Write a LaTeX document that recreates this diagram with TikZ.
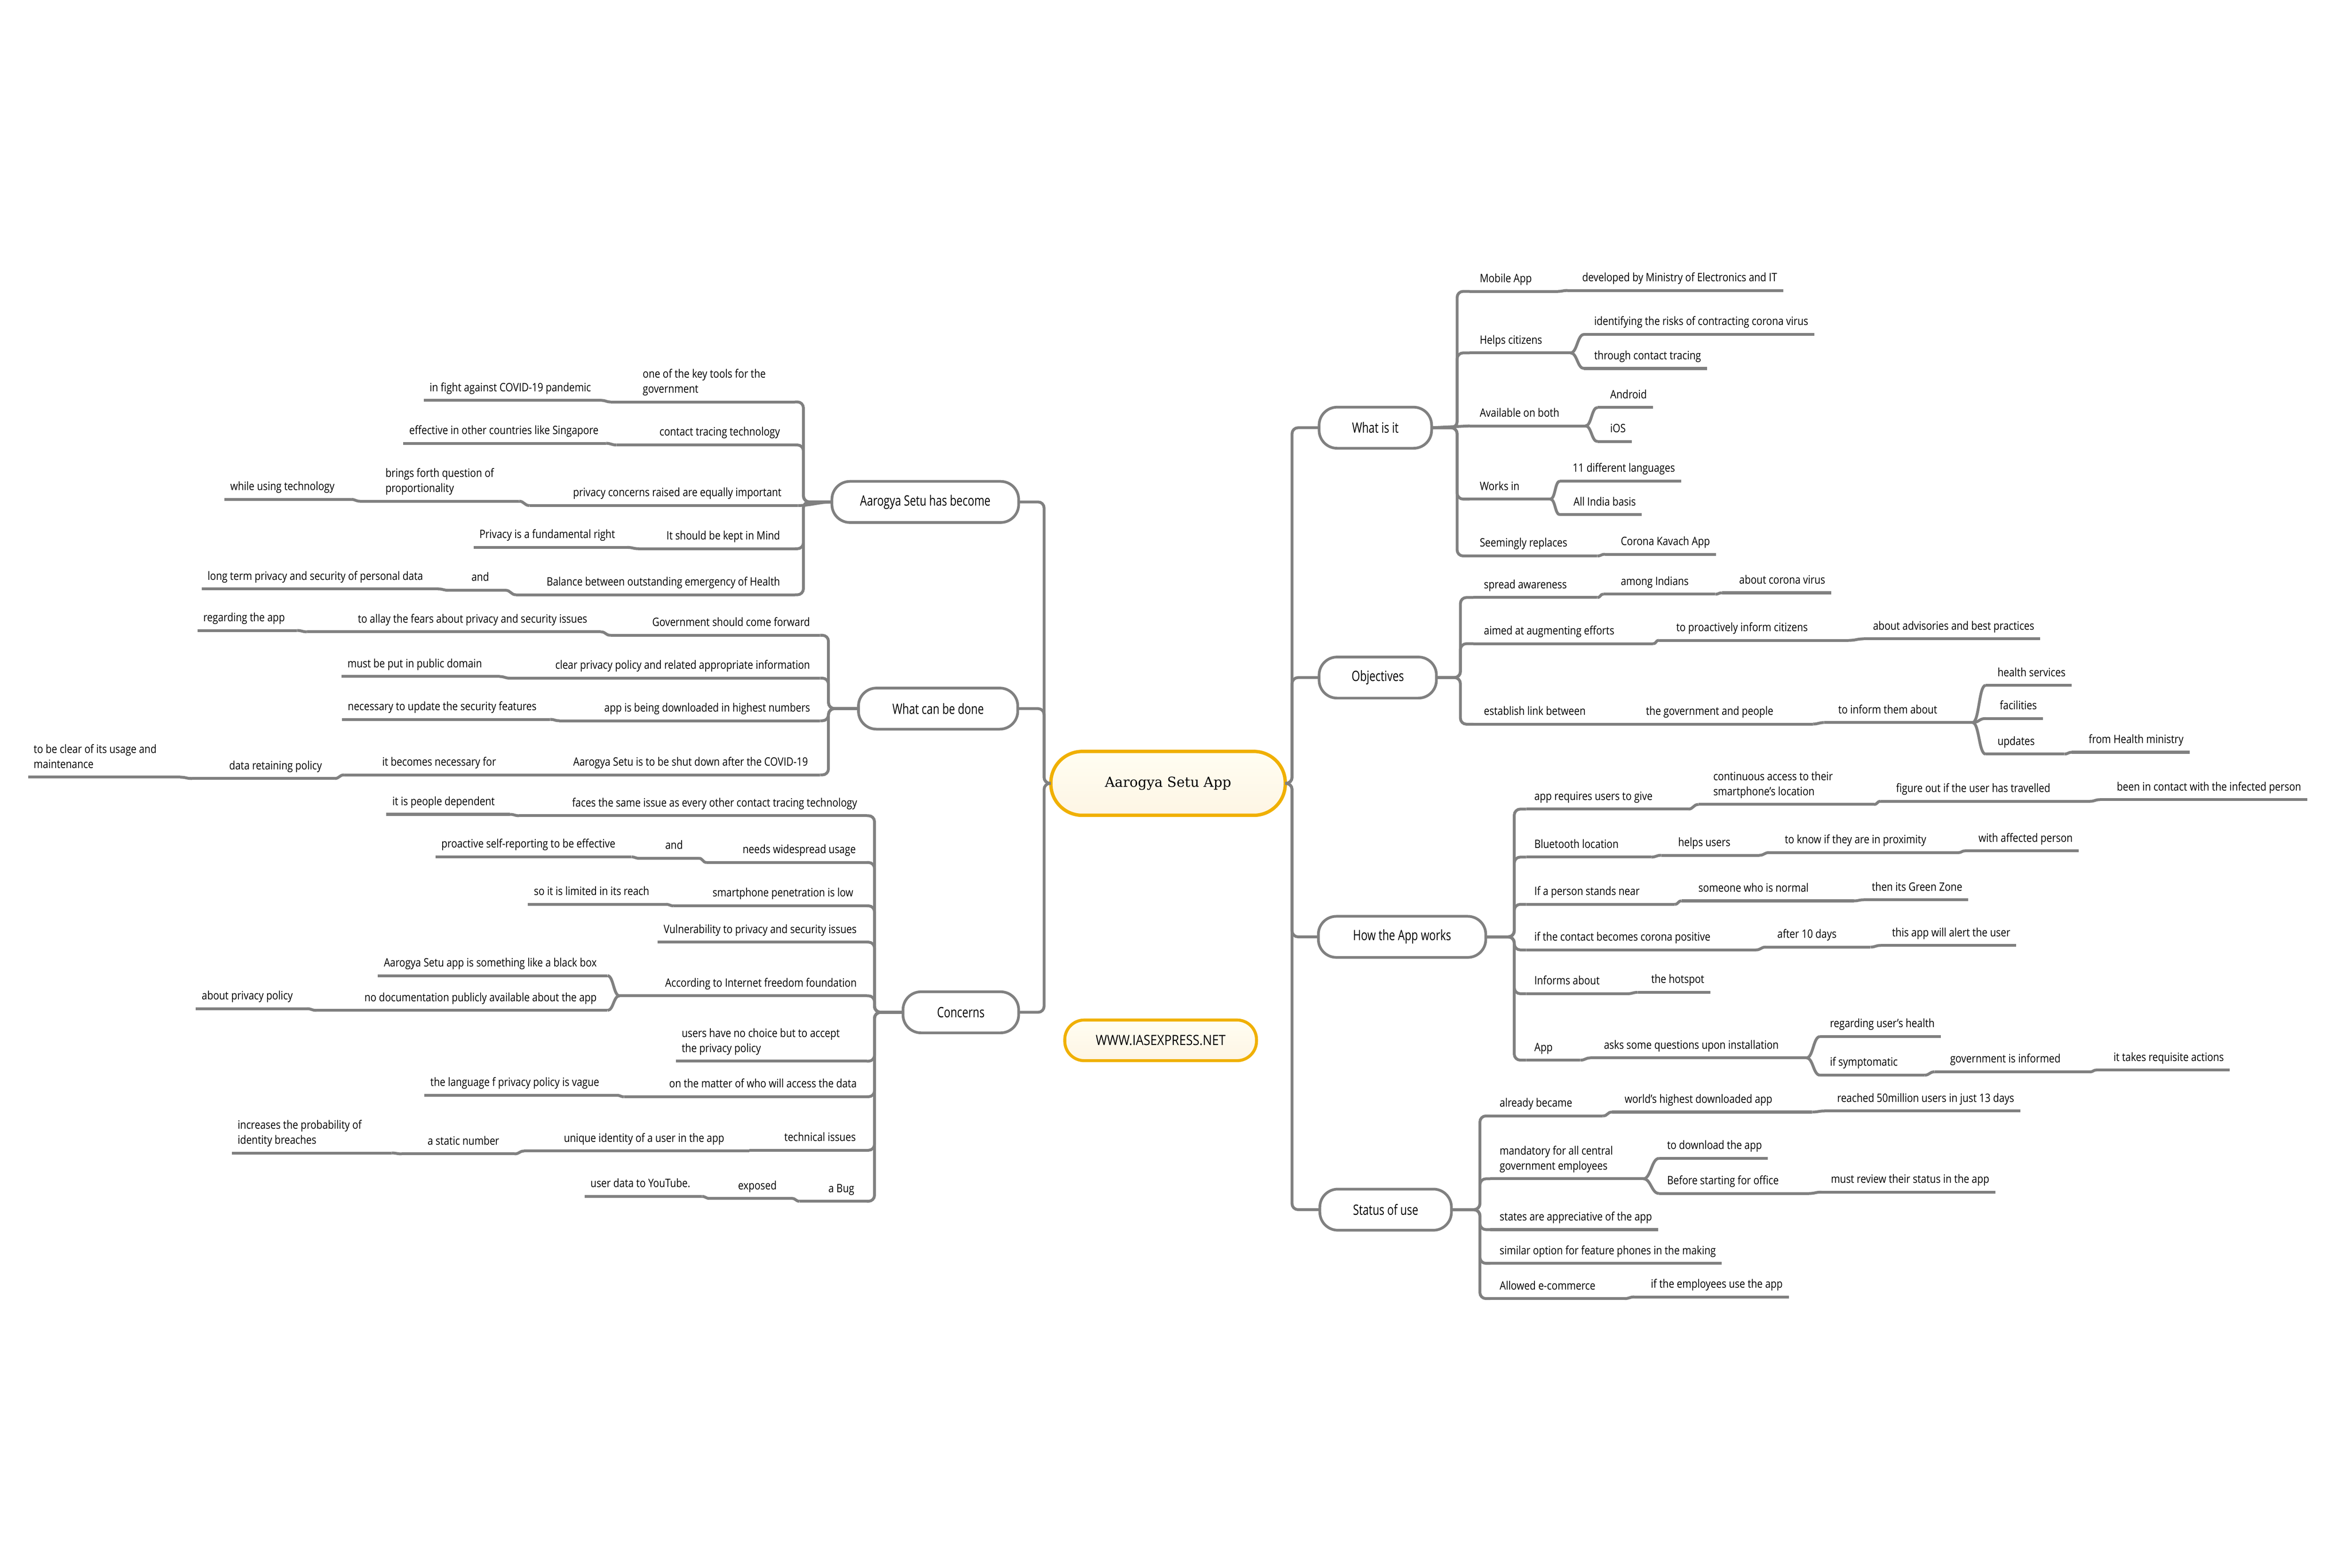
\documentclass[tikz,border=0pt]{standalone}
\usepackage{fontspec}
\newfontfamily\tf{Open Sans}[FakeStretch=0.85]
\newfontfamily\brf{Open Sans}[FakeStretch=0.76]
\newfontfamily\wwwf{Open Sans}[FakeStretch=0.87]
\newfontfamily\rootf{DejaVu Serif}
\usetikzlibrary{calc}
\definecolor{lc}{RGB}{128,128,128}
\definecolor{gold}{RGB}{240,176,0}
\definecolor{creamtop}{RGB}{255,254,242}
\definecolor{creambot}{RGB}{254,245,228}
\newcommand\stf{\tf\fontsize{7.7}{10}\selectfont}
\newcommand\two[2]{\begin{tabular}[b]{@{}l@{}}#1\\#2\end{tabular}}
% right side topic, non-leaf: id, text-left x, underline start, underline end, underline y, text
\newcommand\TRn[6]{\node[tpc,anchor=base west] (#1) at (#2,#5-6) {#6};
  \draw[uline] (#3,#5) coordinate (#1-a) -- (#4,#5) coordinate (#1-b);}
% right side leaf: id, text-left x, underline start, y, text
\newcommand\TRl[5]{\node[tpc,anchor=base west] (#1) at (#2,#4-6) {#5};
  \draw[uline] (#3,#4) coordinate (#1-a) -- ([shift={(4,6)}]#1.base east) coordinate (#1-b);}
% left side non-leaf: id, text-right x, far end, near end, y, text
\newcommand\TLn[6]{\node[tpc,anchor=base east] (#1) at (#2,#5-6) {#6};
  \draw[uline] (#4,#5) coordinate (#1-a) -- (#3,#5) coordinate (#1-b);}
% left side leaf: id, text-right x, near end, y, text
\newcommand\TLl[5]{\node[tpc,anchor=base east] (#1) at (#2,#4-6) {#5};
  \draw[uline] (#3,#4) coordinate (#1-a) -- ([shift={(-4,6)}]#1.base west) coordinate (#1-b);}
% left side, left-aligned text: id, text-left x, far end, near end, y, text
\newcommand\TLw[6]{\node[tpc,anchor=base west] (#1) at (#2,#5-6) {#6};
  \draw[uline] (#4,#5) coordinate (#1-a) -- (#3,#5) coordinate (#1-b);}
\begin{document}
\begin{tikzpicture}[x=1pt,y=-1pt,
  tpc/.style={inner sep=0pt,outer sep=0pt,font=\stf,text=black},
  uline/.style={draw=lc,line width=1.9pt},
  cline/.style={draw=lc,line width=1.9pt},
  trk/.style={cline,rounded corners=4pt},
  sbend/.style={to path={.. controls +(#1,0) and +({0-(#1)},0) .. (\tikztotarget)}},
  brn/.style={draw=lc,line width=1.8pt,fill=white,rounded corners=12pt,minimum height=27.4pt,inner sep=0pt,outer sep=0pt,font=\brf\fontsize{9.5}{11}\selectfont},
  rootbox/.style={draw=gold,line width=2.25pt,top color=creamtop,bottom color=creambot,rounded corners=21pt,minimum width=156.3pt,minimum height=42.6pt,inner sep=0pt,outer sep=0pt,font=\rootf\fontsize{9.2}{11}\selectfont},
  wwwbox/.style={draw=gold,line width=2pt,top color=creamtop,bottom color=creambot,rounded corners=13pt,minimum width=127.8pt,minimum height=27.1pt,inner sep=0pt,outer sep=0pt,font=\wwwf\fontsize{9.4}{11}\selectfont}]
\fill[white] (0,0) rectangle (1568,1045.33);
\useasboundingbox (0,0) rectangle (1568,1045.33);

% ---------- central and main branches ----------
\node[rootbox] (root) at (778.7,522.35) {Aarogya Setu App};
\node[wwwbox] (www) at (773.75,693.7) {WWW.IASEXPRESS.NET};
\node[brn,minimum width=75pt] (B1) at (916.9,285.2) {What is it};
\node[brn,minimum width=78.2pt] (B2) at (918.5,451.8) {Objectives};
\node[brn,minimum width=111.6pt] (B3) at (934.7,624.7) {How the App works};
\node[brn,minimum width=87.7pt] (B4) at (923.75,806.6) {Status of use};
\node[brn,minimum width=124.5pt] (B5) at (616.85,334.7) {Aarogya Setu has become};
\node[brn,minimum width=106.2pt] (B6) at (625.4,472.5) {What can be done};
\node[brn,minimum width=77.1pt] (B7) at (640.55,675) {Concerns};
\foreach \b in {B1,B2,B3,B4} \draw[trk] (root.east) -- ++(4.5,0) |- (\b.west);
\foreach \b in {B5,B6,B7} \draw[trk] (root.west) -- ++(-4.5,0) |- (\b.east);

% ---------- What is it ----------
\TRn{mob}{986.5}{979.8}{1038.5}{194.3}{Mobile App}
\TRl{dev}{1054.8}{1045}{193.7}{developed by Ministry of Electronics and IT}
\TRn{help}{986.5}{979.8}{1047}{235.3}{Helps citizens}
\TRl{ident}{1062.8}{1056}{223}{identifying the risks of contracting corona virus}
\TRl{thr}{1062.8}{1056}{245.7}{through contact tracing}
\TRn{avail}{986.5}{979.8}{1057}{284}{Available on both}
\TRl{andr}{1073.5}{1065}{271.7}{Android}
\TRl{ios}{1073.5}{1065}{294.4}{iOS}
\TRn{works}{986.5}{979.8}{1033.5}{332.8}{Works in}
\TRl{lang}{1048.5}{1040}{320.8}{11 different languages}
\TRl{allind}{1049}{1040}{343.2}{All India basis}
\TRn{seem}{986.5}{979.8}{1064.8}{370.7}{Seemingly replaces}
\TRl{kav}{1080.5}{1070}{369.6}{Corona Kavach App}
\foreach \c in {mob,help,works,seem} \draw[trk] (B1.east) -- ++(17,0) |- (\c-a);
\draw[cline] (B1.east) -- (avail-a);

% ---------- Objectives ----------
\TRn{spread}{989.3}{982.3}{1064.8}{398.4}{spread awareness}
\TRn{among}{1080.5}{1069}{1143.5}{396.2}{among Indians}
\TRl{acv}{1159.5}{1148}{395.3}{about corona virus}
\TRn{aimed}{989.3}{982.3}{1102}{429.2}{aimed at augmenting efforts}
\TRn{proact}{1117.5}{1106}{1232.5}{427}{to proactively inform citizens}
\TRl{advis}{1248.7}{1242.5}{426}{about advisories and best practices}
\TRn{estab}{989.3}{982.3}{1090}{482.9}{establish link between}
\TRn{govp}{1097.3}{1090}{1208.7}{482.8}{the government and people}
\TRn{inform}{1225.5}{1216}{1315}{481.8}{to inform them about}
\TRl{hs}{1331.7}{1323.7}{457}{health services}
\TRl{fac}{1333.2}{1323.7}{479.1}{facilities}
\TRn{upd}{1331.7}{1323.7}{1376.2}{502.8}{updates}
\TRl{fhm}{1392.5}{1381.2}{501.6}{from Health ministry}
\foreach \c in {spread,aimed,estab} \draw[trk] (B2.east) -- ++(16,0) |- (\c-a);
\draw[cline] (estab-b) -- (govp-a);

% ---------- How the App works ----------
\TRn{req}{1022.9}{1017.5}{1125.5}{539.5}{app requires users to give}
\TRn{cont}{1142.2}{1132.3}{1249.3}{536.4}{\two{continuous access to their}{smartphone’s location}}
\TRn{fig}{1264.1}{1253.7}{1393.2}{534.3}{figure out if the user has travelled}
\TRl{been}{1411.2}{1400}{533.2}{been in contact with the infected person}
\TRn{blue}{1022.9}{1017.5}{1100.8}{571.5}{Bluetooth location}
\TRn{helpu}{1118.8}{1107.5}{1172.8}{570.3}{helps users}
\TRn{know}{1189.9}{1179.5}{1305.5}{568.5}{to know if they are in proximity}
\TRl{waff}{1319}{1310}{567.4}{with affected person}
\TRn{stand}{1022.9}{1017.5}{1116.5}{603}{If a person stands near}
\TRn{norm}{1132.3}{1121}{1235.8}{600.7}{someone who is normal}
\TRl{green}{1247.9}{1242.5}{600}{then its Green Zone}
\TRn{cpos}{1022.9}{1017.5}{1170.5}{633.4}{if the contact becomes corona positive}
\TRn{ten}{1184.9}{1177.3}{1247}{631.5}{after 10 days}
\TRl{alert}{1261.4}{1253.7}{630.4}{this app will alert the user}
\TRn{infa}{1022.9}{1017.5}{1085}{662.6}{Informs about}
\TRl{hot}{1100.8}{1091.8}{661.7}{the hotspot}
\TRn{appq}{1022.9}{1017.5}{1053.5}{706.9}{App}
\TRn{asks}{1069.3}{1060.3}{1204.3}{705.4}{asks some questions upon installation}
\TRl{reg}{1220}{1213.3}{691.2}{regarding user’s health}
\TRn{symp}{1220}{1213.3}{1283}{716.9}{if symptomatic}
\TRn{gov}{1300.1}{1289.7}{1393.2}{714.7}{government is informed}
\TRl{req2}{1409}{1397.7}{713.5}{it takes requisite actions}
\foreach \c in {req,blue,stand,cpos,infa,appq} \draw[trk] (B3.east) -- ++(19,0) |- (\c-a);

% ---------- Status of use ----------
\TRn{alr}{999.8}{993.5}{1068.5}{744.1}{already became}
\TRn{world}{1083.1}{1074.8}{1208.1}{741.5}{world’s highest downloaded app}
\TRl{reach}{1224.8}{1216.4}{740.8}{reached 50million users in just 13 days}
\TRn{mand}{999.8}{993.5}{1095.6}{786}{\two{mandatory for all central}{government employees}}
\TRl{todl}{1111.4}{1106}{772.4}{to download the app}
\TRn{before}{1111.4}{1106}{1206}{795.8}{Before starting for office}
\TRl{must}{1220.6}{1214.3}{794.9}{must review their status in the app}
\TRl{states}{999.8}{993.5}{819.9}{states are appreciative of the app}
\TRl{simil}{999.8}{993.5}{842.4}{similar option for feature phones in the making}
\TRn{ecom}{999.8}{993.5}{1083.1}{865.9}{Allowed e-commerce}
\TRl{ifemp}{1100.6}{1089.4}{864.8}{if the employees use the app}
\foreach \c in {alr,mand,states,simil,ecom} \draw[trk] (B4.east) -- ++(19,0) |- (\c-a);

% ---------- Aarogya Setu has become ----------
\TLw{key}{428.5}{407}{530}{268}{\two{one of the key tools for the}{government}}
\TLl{fight}{394}{401}{267}{in fight against COVID-19 pandemic}
\TLn{ctt}{520}{411}{530}{296.7}{contact tracing technology}
\TLl{eff}{399}{404}{295.6}{effective in other countries like Singapore}
\TLn{priv}{521}{353}{532}{337.1}{privacy concerns raised are equally important}
\TLw{brings}{257}{240}{346}{334.2}{\two{brings forth question of}{proportionality}}
\TLl{while}{223}{234}{333}{while using technology}
\TLn{mind}{520}{426}{530}{365.9}{It should be kept in Mind}
\TLl{fund}{410}{418}{365}{Privacy is a fundamental right}
\TLn{bal}{520}{344}{530}{396.6}{Balance between outstanding emergency of Health}
\TLn{andA}{326}{299}{337}{393.6}{and}
\TLl{long}{282}{292}{392.7}{long term privacy and security of personal data}
\foreach \c in {key,ctt,mind,bal} \draw[trk] (B5.west) -- ++(-19,0) |- (\c-a);
\draw[cline] (B5.west) to[sbend=-8] (priv-a);

% ---------- What can be done ----------
\TLn{govt}{540}{407}{546.7}{423.6}{Government should come forward}
\TLn{allay}{391.5}{204.7}{400.5}{421.3}{to allay the fears about privacy and security issues}
\TLl{regapp}{189.9}{198}{420.4}{regarding the app}
\TLn{clear}{540}{340}{546.7}{452.2}{clear privacy policy and related appropriate information}
\TLl{pubdom}{321.3}{333}{451.1}{must be put in public domain}
\TLn{dl}{540}{373}{546.7}{480.6}{app is being downloaded in highest numbers}
\TLl{upd2}{357.7}{366.7}{479.7}{necessary to update the security features}
\TLn{shut}{538.6}{348.7}{546.7}{516.7}{Aarogya Setu is to be shut down after the COVID-19}
\TLn{becomes}{330.7}{229.5}{348.7}{516.7}{it becomes necessary for}
\TLn{dret}{214.6}{128}{223}{519.1}{data retaining policy}
\TLw{clr2}{22.5}{18.9}{120}{518.2}{\two{to be clear of its usage and}{maintenance}}
\foreach \c in {govt,clear,dl,shut} \draw[trk] (B6.west) -- ++(-20,0) |- (\c-a);
\draw[cline] (shut-b) -- (becomes-a);

% ---------- Concerns ----------
\TLn{faces}{571.4}{346}{577.8}{543.9}{faces the same issue as every other contact tracing technology}
\TLl{peop}{329.8}{340}{543}{it is people dependent}
\TLn{wide}{570.5}{471}{577.8}{575.1}{needs widespread usage}
\TLn{andB}{455.2}{426}{466}{572.3}{and}
\TLl{proself}{410.2}{421}{571.4}{proactive self-reporting to be effective}
\TLn{smart}{568.8}{449}{577.8}{604}{smartphone penetration is low}
\TLl{limit}{432.8}{444}{603}{so it is limited in its reach}
\TLl{vuln}{571.1}{577.8}{628.2}{Vulnerability to privacy and security issues}
\TLn{iff}{571.1}{413}{577.8}{664}{According to Internet freedom foundation}
\TLl{blackbox}{397.8}{405}{650.6}{Aarogya Setu app is something like a black box}
\TLn{nodoc}{397.8}{211}{405}{673.7}{no documentation publicly available about the app}
\TLl{abpp}{195.2}{204.5}{672.6}{about privacy policy}
\TLw{nochoice}{454.5}{450.5}{577.8}{707.6}{\two{users have no choice but to accept}{the privacy policy}}
\TLn{matter}{571.1}{416}{577.8}{731.3}{on the matter of who will access the data}
\TLl{vague}{399.5}{411}{730.3}{the language f privacy policy is vague}
\TLn{tech}{570.5}{499.5}{577.8}{767}{technical issues}
\TLn{uniq}{482.8}{349.5}{499.5}{767.5}{unique identity of a user in the app}
\TLn{static}{332.8}{267.8}{343}{769.4}{a static number}
\TLw{incr}{158.5}{154.5}{261}{768.8}{\two{increases the probability of}{identity breaches}}
\TLn{bug}{569.5}{533}{577.8}{801}{a Bug}
\TLn{exposed}{517.8}{473}{528}{799.1}{exposed}
\TLl{ytube}{460.2}{468}{797.8}{user data to YouTube.}
\foreach \c in {faces,wide,smart,vuln,iff,nochoice,matter,tech,bug} \draw[trk] (B7.west) -- ++(-19,0) |- (\c-a);
\draw[cline] (tech-b) -- (uniq-a);

% ---------- sub-topic connectors ----------
\foreach \p/\c/\d in {mob/dev/3.5,help/ident/4.5,help/thr/4.5,avail/andr/4,avail/ios/4,
  works/lang/3.5,works/allind/3.5,seem/kav/3,
  spread/among/2.5,among/acv/2.5,aimed/proact/2.5,proact/advis/5,govp/inform/3.5,
  inform/hs/4.5,inform/fac/4.5,inform/upd/4.5,upd/fhm/2.5,
  req/cont/3.5,cont/fig/2.5,fig/been/3.5,blue/helpu/3.5,helpu/know/3.5,know/waff/2.5,
  stand/norm/2.5,norm/green/3.5,cpos/ten/3.5,ten/alert/3.5,infa/hot/3.5,appq/asks/3.5,
  asks/reg/4.5,asks/symp/4.5,symp/gov/3.5,gov/req2/2.5,
  alr/world/3.5,world/reach/4,mand/todl/5,mand/before/5,before/must/4,ecom/ifemp/3,
  key/fight/-3,ctt/eff/-3.5,priv/brings/-3.5,brings/while/-3,mind/fund/-4,bal/andA/-3.5,andA/long/-3.5,
  govt/allay/-3.5,allay/regapp/-3.5,clear/pubdom/-3.5,dl/upd2/-3.5,becomes/dret/-3.5,dret/clr2/-4,
  faces/peop/-3,wide/andB/-2.5,andB/proself/-2.5,smart/limit/-2.5,iff/blackbox/-4,iff/nodoc/-4,
  nodoc/abpp/-3.5,matter/vague/-2.5,uniq/static/-3.5,static/incr/-3.5,bug/exposed/-2.5,exposed/ytube/-2.5}
  \draw[cline] (\p-b) to[sbend=\d] (\c-a);
\end{tikzpicture}
\end{document}
